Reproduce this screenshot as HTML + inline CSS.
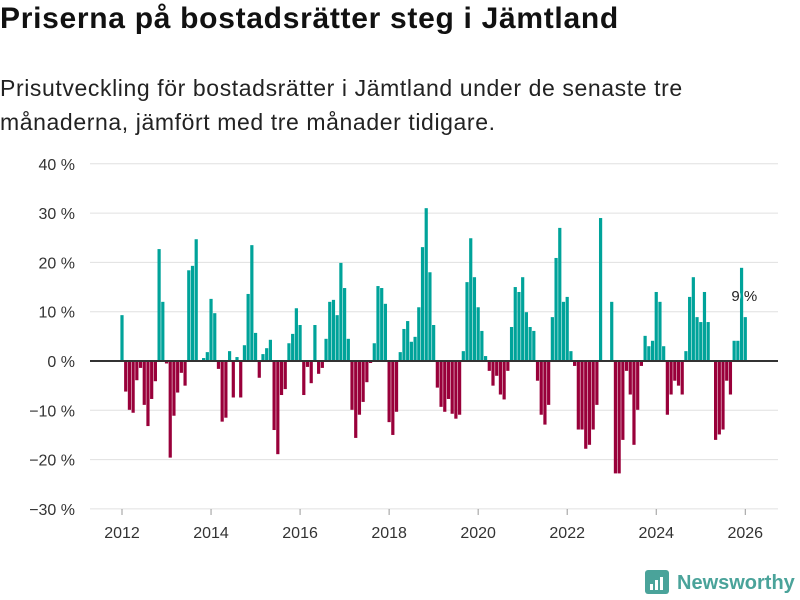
<!DOCTYPE html>
<html><head><meta charset="utf-8"><style>
body{margin:0;background:#fff;font-family:"Liberation Sans","DejaVu Sans",sans-serif;}
#wrap{position:relative;width:800px;height:600px;overflow:hidden;}
h1{position:absolute;left:0;top:2px;margin:0;font-size:30px;font-weight:bold;color:#111;letter-spacing:0.7px;white-space:nowrap}
p{position:absolute;left:0;top:71px;margin:0;font-size:23px;line-height:34px;color:#222;width:700px;letter-spacing:0.6px}
</style></head><body>
<div id="wrap">
<h1>Priserna på bostadsrätter steg i Jämtland</h1>
<p>Prisutveckling för bostadsrätter i Jämtland under de senaste tre månaderna, jämfört med tre månader tidigare.</p>
<svg id="chart" width="800" height="600" style="position:absolute;left:0;top:0"></svg>
</div>
<script>
const startYear = 2012;
const values = [9.3,-6.2,-9.9,-10.5,-3.9,-1.4,-8.9,-13.2,-7.7,-4.1,22.7,12.0,-0.5,-19.6,-11.1,-6.4,-2.4,-5.0,18.4,19.3,24.7,0,0.6,1.8,12.6,9.7,-1.6,-12.3,-11.5,2.0,-7.4,0.8,-7.4,3.2,13.6,23.5,5.7,-3.4,1.4,2.6,4.3,
-14.0,-18.9,-6.9,-5.7,3.6,5.5,10.7,7.3,-6.9,-1.2,-4.5,7.3,-2.6,-1.4,4.5,12.0,12.4,9.3,19.9,14.8,4.5,-9.9,-15.6,-10.9,-8.3,-4.3,-0.4,3.6,15.2,14.8,11.6,-12.4,-15.0,-10.3,1.8,6.5,8.1,3.9,4.9,10.9,23.1,31.0,
18.0,7.3,-5.4,-9.3,-10.3,-7.7,-10.7,-11.7,-10.9,2.0,16.0,24.9,17.0,10.9,6.1,1.0,-2.0,-5.0,-3.0,-6.8,-7.8,-2.0,6.9,15.0,14.0,17.0,9.9,6.9,6.1,-4.0,-10.9,-12.9,-8.9,8.9,20.9,27.0,12.0,13.0,2.0,-1.0,-13.9,-13.9,-17.8,-17.0,
-13.9,-8.9,29.0,0,0,12.0,-22.8,-22.8,-16.0,-2.0,-6.8,-17.0,-9.9,-1.0,5.1,3.0,4.1,14.0,12.0,3.0,-10.9,-6.8,-4.0,-5.0,-6.8,2.0,13.0,17.0,8.9,7.9,14.0,7.9,0,-16.0,-14.9,-13.9,-4.0,-6.8,4.1,4.1,18.9,8.9];
const yTicks = [40,30,20,10,0,-10,-20,-30];
const xTicks = [2012,2014,2016,2018,2020,2022,2024,2026];
const lastLabel = "9 %";

const svg = document.getElementById('chart');
const NS = 'http://www.w3.org/2000/svg';
function yS(v){return 361 - v*4.93;}
function xS(m){return 122 + m*3.71;}
function mk(tag, attrs){const e=document.createElementNS(NS,tag);for(const k in attrs)e.setAttribute(k,attrs[k]);svg.appendChild(e);return e;}

yTicks.forEach(t=>{
  const g = mk('line',{x1:90,x2:778,y1:yS(t),y2:yS(t),stroke:'#e0e0e0','stroke-width':1});
  
  
  const l = mk('text',{x:75,y:yS(t)+6,'text-anchor':'end','font-size':16,fill:'#333','font-family':'Liberation Sans, DejaVu Sans, sans-serif'});
  l.textContent = (t<0?'−'+(-t):t)+' %';
  
  
});
xTicks.forEach(y=>{
  const x = xS((y-startYear)*12);
  const tk = mk('line',{x1:x,x2:x,y1:509,y2:515,stroke:'#999','stroke-width':1});
  
  
  const l = mk('text',{x:x,y:538,'text-anchor':'middle','font-size':16,fill:'#333','font-family':'Liberation Sans, DejaVu Sans, sans-serif'});
  l.textContent = y;
  
  
});
values.forEach((v,i)=>{
  if(v===0) return;
  const y0=yS(0), y1=yS(v);
  const r = mk('rect',{x:xS(i)-1.6,width:3.2,y:Math.min(y0,y1),height:Math.abs(y1-y0),fill:v>0?'#00a39a':'#99003a'});
  
  
});
const z = mk('line',{x1:90,x2:778,y1:yS(0),y2:yS(0),stroke:'#333','stroke-width':2});


const ll = mk('text',{x:xS(values.length-1)-1,y:yS(values[values.length-1])-16,'text-anchor':'middle','font-size':15,fill:'#222',stroke:'#fff','stroke-width':3,'paint-order':'stroke','font-family':'Liberation Sans, DejaVu Sans, sans-serif'});
ll.textContent = lastLabel;



// logo
const lg = mk('rect',{x:645,y:570,width:24,height:24,rx:3,fill:'#4aa39a'});


[[650,584,3,6],[655,580,3,10],[660,577,3,13]].forEach(b=>{
  const r = mk('rect',{x:b[0],y:b[1],width:b[2],height:b[3],fill:'#fff'});
  
  
});
const lt = mk('text',{x:677,y:589,'font-size':20,'font-weight':'bold',fill:'#4aa39a','font-family':'Liberation Sans, DejaVu Sans, sans-serif'});
lt.textContent='Newsworthy';


</script>
</body></html>
